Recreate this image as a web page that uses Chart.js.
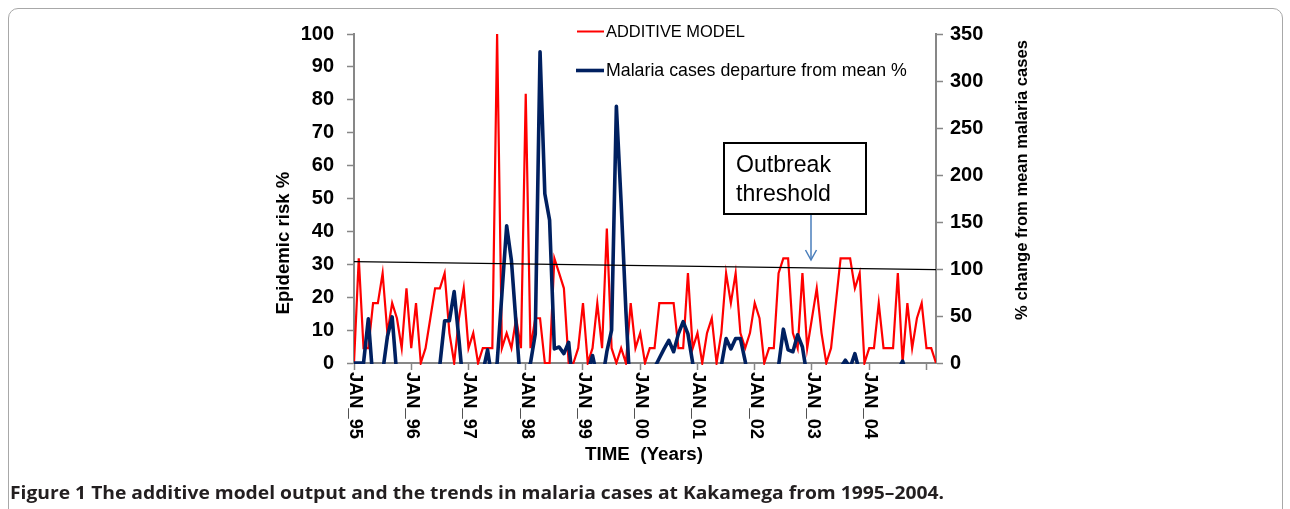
<!DOCTYPE html>
<html>
<head>
<meta charset="utf-8">
<script src="https://cdn.jsdelivr.net/npm/chart.js@4.4.1/dist/chart.umd.min.js"></script>
<style>
html,body{margin:0;padding:0;background:#fff;width:1290px;height:509px;overflow:hidden;}
#frame{position:absolute;left:8px;top:8px;width:1275px;height:512px;border:1px solid #a8a8a8;border-radius:10px;box-sizing:border-box;}
#wrap{position:absolute;left:0;top:0;width:1290px;height:509px;}
#caption{position:absolute;left:10px;top:480px;font-family:"Open Sans",sans-serif;font-weight:700;font-size:18px;white-space:nowrap;color:#231f20;line-height:24px;transform-origin:0 0;}
</style>
</head>
<body>
<div id="frame"></div>
<div id="wrap"><canvas id="c" width="1290" height="509"></canvas></div>
<div id="caption">Figure 1 The additive model output and the trends in malaria cases at Kakamega from 1995–2004.</div>
<script>
// ---------- DATA ----------
const MONTHS = ['JAN','FEB','MAR','APR','MAY','JUN','JUL','AUG','SEP','OCT','NOV','DEC'];
const START_YEAR = 1995;
const N_MONTHS = 123;
const categories = [];
for (let i = 0; i < N_MONTHS; i++) {
  const yy = String((START_YEAR + Math.floor(i / 12)) % 100).padStart(2, '0');
  categories.push(MONTHS[i % 12] + '_' + yy);
}
const yearTickLabels = ['JAN_95','JAN_96','JAN_97','JAN_98','JAN_99','JAN_00','JAN_01','JAN_02','JAN_03','JAN_04'];

// ADDITIVE MODEL (epidemic risk %, left axis)
const riskValues = [
  0, 31.8, 4.5, 4.5, 18.2, 18.2, 27.3, 9.1, 18.2, 13.6, 4.5, 22.7,
  4.5, 18.2, 0, 4.5, 13.6, 22.7, 22.7, 27.3, 9.1, 0, 13.6, 22.7,
  4.5, 9.1, 0, 4.5, 4.5, 4.5, 100, 4.5, 9.1, 4.5, 13.6, 4.5,
  81.8, 4.5, 13.6, 13.6, 0, 0, 31.8, 27.3, 22.7, 0, 0, 4.5,
  18.2, 0, 4.5, 18.2, 4.5, 40.9, 4.5, 0, 4.5, 0, 18.2, 4.5,
  9.1, 0, 4.5, 4.5, 18.2, 18.2, 18.2, 18.2, 4.5, 4.5, 27.3, 4.5,
  9.1, 0, 9.1, 13.6, 0, 9.1, 27.3, 18.2, 27.3, 9.1, 4.5, 9.1,
  18.2, 13.6, 0, 4.5, 4.5, 27.3, 31.8, 31.8, 9.1, 4.5, 27.3, 4.5,
  13.6, 22.7, 9.1, 0, 4.5, 18.2, 31.8, 31.8, 31.8, 22.7, 27.3, 0,
  4.5, 4.5, 18.2, 4.5, 4.5, 4.5, 27.3, 0, 18.2, 4.5, 13.6, 18.2,
  4.5, 4.5, 0
];

// Malaria cases departure from mean % (right axis)
const departureValues = [
  0, 0, 0, 47, -20, -40, -10, 28, 49, -15, -40, -55,
  -60, -50, -45, -60, -55, -40, -2, 45, 45, 76, 25, -30,
  -50, -40, -35, -10, 14, -20, 0, 73, 146, 109, 40, -30,
  -10, 0, 31, 331, 180, 152, 15, 17, 10, 22, -30, -45,
  -20, -10, 8, -15, -20, 12, 35, 273, 170, 55, -40, -50,
  -45, -40, -20, -5, 5, 15, 24, 12, 31, 44, 31, 0,
  -25, -40, -45, -35, -20, -3, 26, 15, 26, 26, 2, -30,
  -45, -50, -40, -30, -15, -3, 36, 14, 12, 30, 17, -15,
  -30, -40, -35, -30, -20, -10, -5, 3, -5, 10, -10, -25,
  -35, -40, -30, -25, -20, -15, -8, 2, -15, -25, -30, -25,
  -20, -15, -10
];

// Outbreak threshold line (start, end) on left axis
const thresholdValues = [30.8, 28.4];

// ---------- STYLE ----------
const FONT = "'Liberation Sans', Arial, sans-serif";
const AXIS_GREY = '#878787';

function sizeFor(ctx, text, weight, target) {
  ctx.font = weight + ' 100px ' + FONT;
  return 100 * target / ctx.measureText(text).width;
}

const decor = {
  id: 'decor',
  afterDraw(chart) {
    const ctx = chart.ctx;
    const x = chart.scales.x;
    ctx.save();
    ctx.fillStyle = '#000';

    // x tick labels, rotated clockwise (read top to bottom)
    const xs = sizeFor(ctx, 'JAN_95', 'bold', 67);
    ctx.font = 'bold ' + xs.toFixed(2) + 'px ' + FONT;
    ctx.textAlign = 'left';
    ctx.textBaseline = 'middle';
    yearTickLabels.forEach((lab, k) => {
      const px = x.getPixelForValue(k * 12);
      ctx.save();
      ctx.translate(px + 1, 372);
      ctx.rotate(Math.PI / 2);
      ctx.fillText(lab, 0, 0);
      ctx.restore();
    });

    // x title
    const ts = sizeFor(ctx, 'TIME  (Years)', 'bold', 118);
    ctx.font = 'bold ' + ts.toFixed(2) + 'px ' + FONT;
    ctx.textAlign = 'center';
    ctx.fillText('TIME  (Years)', 644, 455);

    // left title
    const ls = sizeFor(ctx, 'Epidemic risk %', 'bold', 143);
    ctx.font = 'bold ' + ls.toFixed(2) + 'px ' + FONT;
    ctx.save();
    ctx.translate(284, 243);
    ctx.rotate(-Math.PI / 2);
    ctx.fillText('Epidemic risk %', 0, 0);
    ctx.restore();

    // right title
    const rs = sizeFor(ctx, '% change from mean malaria cases', 'bold', 280);
    ctx.font = 'bold ' + rs.toFixed(2) + 'px ' + FONT;
    ctx.save();
    ctx.translate(1022, 180);
    ctx.rotate(-Math.PI / 2);
    ctx.fillText('% change from mean malaria cases', 0, 0);
    ctx.restore();

    // legend
    ctx.textAlign = 'left';
    ctx.strokeStyle = '#ff0000';
    ctx.lineWidth = 2;
    ctx.beginPath(); ctx.moveTo(577, 31.5); ctx.lineTo(604, 31.5); ctx.stroke();
    const l1 = sizeFor(ctx, 'ADDITIVE MODEL', 'normal', 139);
    ctx.font = 'normal ' + l1.toFixed(2) + 'px ' + FONT;
    ctx.fillText('ADDITIVE MODEL', 606, 32);
    ctx.strokeStyle = '#002060';
    ctx.lineWidth = 3.6;
    ctx.beginPath(); ctx.moveTo(576, 70.5); ctx.lineTo(604, 70.5); ctx.stroke();
    const l2 = sizeFor(ctx, 'Malaria cases departure from mean %', 'normal', 301);
    ctx.font = 'normal ' + l2.toFixed(2) + 'px ' + FONT;
    ctx.fillText('Malaria cases departure from mean %', 606, 71);

    // annotation box
    ctx.fillStyle = '#fff';
    ctx.fillRect(724, 143, 142, 71);
    ctx.strokeStyle = '#000';
    ctx.lineWidth = 2;
    ctx.strokeRect(724, 143, 142, 71);
    ctx.fillStyle = '#000';
    const as = sizeFor(ctx, 'threshold', 'normal', 95);
    ctx.font = 'normal ' + as.toFixed(2) + 'px ' + FONT;
    ctx.textBaseline = 'alphabetic';
    ctx.fillText('Outbreak', 736, 172);
    ctx.fillText('threshold', 736, 201);

    // arrow
    ctx.strokeStyle = '#4a7ebb';
    ctx.lineWidth = 1.5;
    ctx.beginPath(); ctx.moveTo(811, 215); ctx.lineTo(811, 259); ctx.stroke();
    ctx.beginPath(); ctx.moveTo(805.5, 250); ctx.lineTo(811, 260); ctx.lineTo(816.5, 250); ctx.stroke();

    ctx.restore();
  }
};

const tickFont = {family: FONT, size: 20, weight: 'bold'};

new Chart(document.getElementById('c'), {
  type: 'line',
  data: {
    labels: categories,
    datasets: [
      {
        label: 'Outbreak threshold',
        data: [{x: categories[0], y: thresholdValues[0]}, {x: categories[N_MONTHS - 1], y: thresholdValues[1]}],
        yAxisID: 'y',
        borderColor: '#000000',
        borderWidth: 1.2,
        pointRadius: 0,
        tension: 0,
        order: 0
      },
      {
        label: 'Malaria cases departure from mean %',
        data: departureValues,
        yAxisID: 'y1',
        borderColor: '#002060',
        borderWidth: 3.6,
        pointRadius: 0,
        tension: 0,
        borderJoinStyle: 'round',
        clip: {left: 0, top: 4, right: 0, bottom: 1},
        order: 1
      },
      {
        label: 'ADDITIVE MODEL',
        data: riskValues,
        yAxisID: 'y',
        borderColor: '#ff0000',
        borderWidth: 2.2,
        pointRadius: 0,
        tension: 0,
        clip: {left: 0, top: 4, right: 0, bottom: 2},
        order: 2
      }
    ]
  },
  options: {
    responsive: false,
    maintainAspectRatio: false,
    animation: false,
    devicePixelRatio: 1,
    layout: {padding: {left: 0, right: 0, top: 34, bottom: 0}},
    plugins: {legend: {display: false}, tooltip: {enabled: false}},
    scales: {
      x: {
        type: 'category',
        offset: false,
        grid: {
          drawOnChartArea: false,
          drawTicks: true,
          tickLength: 7,
          tickWidth: 1.5,
          tickColor: (c) => (c.index % 12 === 0 ? AXIS_GREY : 'rgba(0,0,0,0)')
        },
        border: {display: true, color: AXIS_GREY, width: 2},
        ticks: {display: false, autoSkip: false},
        afterFit: (s) => { s.height = 146; }
      },
      y: {
        position: 'left',
        min: 0,
        max: 100,
        grid: {drawOnChartArea: false, tickLength: 7, tickWidth: 1.5, tickColor: AXIS_GREY},
        border: {display: true, color: AXIS_GREY, width: 2},
        ticks: {stepSize: 10, font: tickFont, color: '#000', padding: 13},
        afterFit: (s) => { s.width = 354; }
      },
      y1: {
        position: 'right',
        min: 0,
        max: 350,
        grid: {drawOnChartArea: false, tickLength: 7, tickWidth: 1.5, tickColor: AXIS_GREY},
        border: {display: true, color: AXIS_GREY, width: 2},
        ticks: {stepSize: 50, font: tickFont, color: '#000', padding: 7},
        afterFit: (s) => { s.width = 354; }
      }
    }
  },
  plugins: [decor]
});

// caption sizing: condense horizontally to the reference width
(function () {
  const cap = document.getElementById('caption');
  const target = 934;
  const w = cap.getBoundingClientRect().width;
  cap.style.transform = 'scaleX(' + (target / w).toFixed(4) + ')';
})();
</script>
</body>
</html>
